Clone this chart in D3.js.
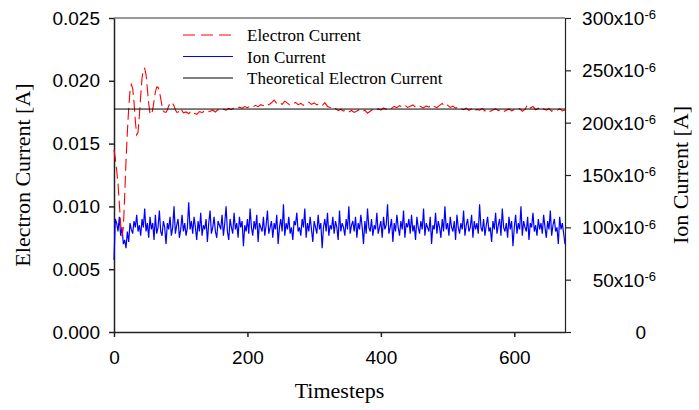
<!DOCTYPE html>
<html>
<head>
<meta charset="utf-8">
<script src="https://cdnjs.cloudflare.com/ajax/libs/d3/7.8.5/d3.min.js"></script>
<style>
    body { margin: 0; background: #fff; }
    .axis text { font-family: "Liberation Sans", Arial, sans-serif; font-size: 19px; fill: #000; }
    .axis path, .axis line { stroke: #222; }
    .title { font-family: "Liberation Serif", "Times New Roman", serif; fill: #000; }
</style>
</head>
<body>
<div id="chart"></div>
<script>
// electron current [mA], every 2 timesteps from t = 0 to t = 100
let electronEarly = [14.5, 13.8, 12.9, 11.8, 10.2, 8.6, 7.6, 8.3, 10.8, 13.6,
    15.9, 17.8, 19.2, 19.7, 19.4, 18.3, 16.8, 15.7, 15.9, 17.2,
    18.8, 20.2, 20.9, 21.0, 20.5, 19.4, 18.2, 17.4, 17.3, 17.7,
    18.4, 19.1, 19.5, 19.5, 19.2, 18.6, 18.0, 17.6, 17.5, 17.5,
    17.7, 18.0, 18.2, 18.3, 18.2, 18.0, 17.7, 17.5, 17.5, 17.6, 17.8];

// electron current [mA], every 4 timesteps from t = 104 to t = 676
let electronLate = [17.45, 17.52, 17.38, 17.60, 17.41, 17.33, 17.55, 17.47, 17.62, 17.50,
    17.58, 17.66, 17.52, 17.70, 17.61, 17.74, 17.66, 17.80, 17.72, 17.85,
    17.78, 17.90, 17.82, 17.95, 17.86,
    17.98, 17.90, 18.05, 17.94, 18.10, 18.02, 18.18, 18.08, 18.25, 18.46,
    18.20, 18.30, 18.12, 18.38, 18.22, 18.06, 18.15, 18.28, 18.10, 18.20,
    18.04, 18.16, 18.30, 18.12, 18.24, 18.08, 18.18, 18.02, 18.26, 17.96,
    17.88, 17.70, 17.80, 17.62, 17.74, 17.58, 17.68, 17.52, 17.64, 17.48,
    17.60, 17.70, 17.55, 17.66, 17.42, 17.58, 17.72, 17.60, 17.78, 17.66,
    17.84, 17.74, 17.90, 17.80, 17.96,
    17.86, 18.02, 17.92, 18.06, 17.88, 17.98, 18.08, 17.90, 18.04, 17.94,
    17.84, 18.00, 17.90, 18.10, 17.96, 17.86, 18.04, 18.20, 17.94, 18.06,
    17.88, 17.98, 17.82, 17.92, 17.78,
    17.70, 17.82, 17.64, 17.76, 17.58, 17.72, 17.66, 17.80, 17.60, 17.74,
    17.56, 17.68, 17.78, 17.62, 17.72, 17.54, 17.66, 17.76, 17.60, 17.70,
    17.64, 17.78, 17.58, 17.72, 18.10, 17.84, 17.96, 17.70, 17.82, 17.62,
    17.76, 17.66, 17.80, 17.58, 17.72, 17.64, 17.78, 17.60, 17.68];

// ion current [uA], every 2 timesteps from t = 0 to t = 676
let ionMicroA = [69, 108, 104, 96, 110, 92, 100, 84, 88, 80, 96, 86, 104, 98, 94, 106, 100, 112, 96, 102,
    92, 108, 100, 118, 96, 104, 90, 110, 98, 104, 88, 112, 94, 100, 116, 96, 92, 106, 100, 84,
    104, 98, 110, 92, 100, 120, 94, 102, 108, 90, 98, 112, 96, 104, 92, 100, 124, 98, 106, 94,
    110, 100, 88, 106, 96, 114, 92, 102, 98, 108, 86, 104, 116, 94, 100, 110, 96, 90, 106, 102,
    98, 112, 92, 104, 120, 96, 88, 108, 100, 94, 114, 98, 104, 90, 110, 100, 106, 82, 102, 96,
    108, 94, 118, 100, 92, 106, 98, 112, 86, 104, 100, 96, 110, 92, 102, 116, 94, 100, 106, 90,
    104, 98, 112, 84, 100, 108, 96, 122, 92, 104, 98, 110, 94, 100, 88, 106, 102, 114, 96, 100,
    92, 108, 100, 118, 90, 104, 96, 110, 98, 86, 106, 100, 94, 112, 98, 104, 80, 100, 108, 96,
    114, 92, 102, 98, 110, 94, 106, 100, 88, 116, 96, 104, 100, 92, 108, 98, 120, 94, 102, 106,
    96, 110, 90, 104, 98, 112, 100, 84, 106, 94, 118, 100, 96, 108, 92, 102, 98, 114, 94, 100,
    106, 90, 110, 98, 102, 122, 94, 100, 108, 86, 104, 96, 112, 100, 92, 106, 98, 116, 90, 104,
    100, 108, 94, 112, 96, 102, 88, 110, 100, 94, 106, 98, 118, 92, 104, 100, 96, 110, 84, 102,
    98, 114, 94, 106, 100, 90, 108, 96, 120, 98, 104, 92, 110, 100, 96, 106, 88, 112, 100, 94,
    104, 98, 116, 92, 102, 108, 96, 100, 112, 90, 106, 98, 104, 94, 122, 100, 96, 108, 92, 102,
    110, 96, 100, 86, 106, 98, 114, 94, 102, 108, 92, 118, 100, 96, 104, 90, 110, 98, 106, 82,
    100, 112, 94, 104, 98, 120, 92, 106, 100, 96, 110, 88, 104, 100, 114, 96, 102, 92, 108, 98,
    104, 94, 112, 100, 90, 106, 98, 116, 92, 102, 108, 96, 100, 84, 110, 98, 104, 94, 84];

let theoreticalElectron = 0.01775;

let xTicks = [0, 200, 400, 600];
let leftTicks = [0, 0.005, 0.010, 0.015, 0.020, 0.025];
let rightTicks = [0, 50, 100, 150, 200, 250, 300];   // x10^-6

let legendLabels = ["Electron Current", "Ion Current", "Theoretical Electron Current"];

let margin = { top: 18, right: 134, bottom: 78, left: 114 };
let width = 699 - margin.left - margin.right;
let height = 410 - margin.top - margin.bottom;

let svg = d3.select("#chart").append("svg")
    .attr("width", 699)
    .attr("height", 410)
    .append("g")
    .attr("transform", "translate(" + margin.left + "," + margin.top + ")");

// scales
let x = d3.scaleLinear().domain([0, 676]).range([0, width]);
let yLeft = d3.scaleLinear().domain([0, 0.025]).range([height, 0]);
let yRight = d3.scaleLinear().domain([0, 300e-6]).range([height, 0]);

// build series
let electronData = electronEarly.map((v, i) => ({ t: i * 2, v: v / 1000 }))
    .concat(electronLate.map((v, i) => ({ t: 104 + i * 4, v: v / 1000 })));
let ionData = ionMicroA.map((v, i) => ({ t: i * 2, v: v * 1e-6 }));

// frame (top border)
svg.append("line")
    .attr("x1", 0).attr("x2", width)
    .attr("y1", 0).attr("y2", 0)
    .attr("stroke", "#333").attr("stroke-width", 1);

// axes
svg.append("g")
    .attr("class", "axis")
    .attr("transform", "translate(0," + height + ")")
    .call(d3.axisBottom(x).tickValues(xTicks).tickSizeInner(5).tickSizeOuter(0).tickPadding(14))
    .call(g => g.selectAll("path, line").attr("stroke-width", 1.5));

svg.append("g")
    .attr("class", "axis")
    .call(d3.axisLeft(yLeft).tickValues(leftTicks).tickFormat(d3.format(".3f"))
        .tickSizeInner(5).tickSizeOuter(0).tickPadding(9))
    .call(g => g.selectAll("path, line").attr("stroke-width", 1.5));

let rightAxis = svg.append("g")
    .attr("class", "axis")
    .attr("transform", "translate(" + width + ",0)")
    .call(d3.axisRight(yRight).tickValues(rightTicks.map(d => d * 1e-6))
        .tickSizeInner(6).tickSizeOuter(0).tickFormat(""))
    .call(g => g.selectAll("path, line").attr("stroke", "#555").attr("stroke-width", 1.2));

// right tick labels with superscript exponent
rightAxis.selectAll(".tick").each(function (d, i) {
    let val = rightTicks[i];
    let t = d3.select(this).append("text")
        .attr("text-anchor", "end")
        .attr("dy", "0.35em");
    if (val === 0) {
        t.attr("x", 81).text("0");
    } else {
        t.attr("x", 91);
        t.append("tspan").text(val + "x10");
        t.append("tspan").attr("dy", "-0.45em").style("font-size", "13px").text("-6");
    }
});

// ion current
svg.append("path")
    .datum(ionData)
    .attr("fill", "none")
    .attr("stroke", "#0000ff")
    .attr("stroke-width", 1.2)
    .attr("d", d3.line().x(d => x(d.t)).y(d => yRight(d.v)));

// electron current
svg.append("path")
    .datum(electronData)
    .attr("fill", "none")
    .attr("stroke", "#ff0000")
    .attr("stroke-width", 1.1)
    .attr("stroke-dasharray", "12,5")
    .attr("d", d3.line().x(d => x(d.t)).y(d => yLeft(d.v)));

// theoretical electron current
svg.append("line")
    .attr("x1", x(0)).attr("x2", x(676))
    .attr("y1", yLeft(theoreticalElectron)).attr("y2", yLeft(theoreticalElectron))
    .attr("stroke", "#000").attr("stroke-width", 1);

// axis titles
svg.append("text")
    .attr("class", "title")
    .attr("text-anchor", "middle")
    .attr("font-size", "22px")
    .attr("x", width / 2)
    .attr("y", 380)
    .text("Timesteps");

svg.append("text")
    .attr("class", "title")
    .attr("text-anchor", "middle")
    .attr("font-size", "22px")
    .attr("transform", "translate(-84," + height / 2 + ") rotate(-90)")
    .text("Electron Current [A]");

svg.append("text")
    .attr("class", "title")
    .attr("text-anchor", "middle")
    .attr("font-size", "22px")
    .attr("transform", "translate(" + (width + 123) + "," + height / 2 + ") rotate(-90)")
    .text("Ion Current [A]");

// legend
let legend = svg.append("g").attr("transform", "translate(69,17)");
let legendStyles = [
    { color: "#ff0000", dash: "12,6" },
    { color: "#0000ff", dash: null },
    { color: "#000", dash: null }
];
legendLabels.forEach((label, i) => {
    let yPos = i * 21.5;
    legend.append("line")
        .attr("x1", 0).attr("x2", 50)
        .attr("y1", yPos).attr("y2", yPos)
        .attr("stroke", legendStyles[i].color)
        .attr("stroke-width", 1)
        .attr("stroke-dasharray", legendStyles[i].dash);
    legend.append("text")
        .attr("class", "title")
        .attr("font-size", "17px")
        .attr("x", 64)
        .attr("y", yPos + 6)
        .text(label);
});
</script>
</body>
</html>
